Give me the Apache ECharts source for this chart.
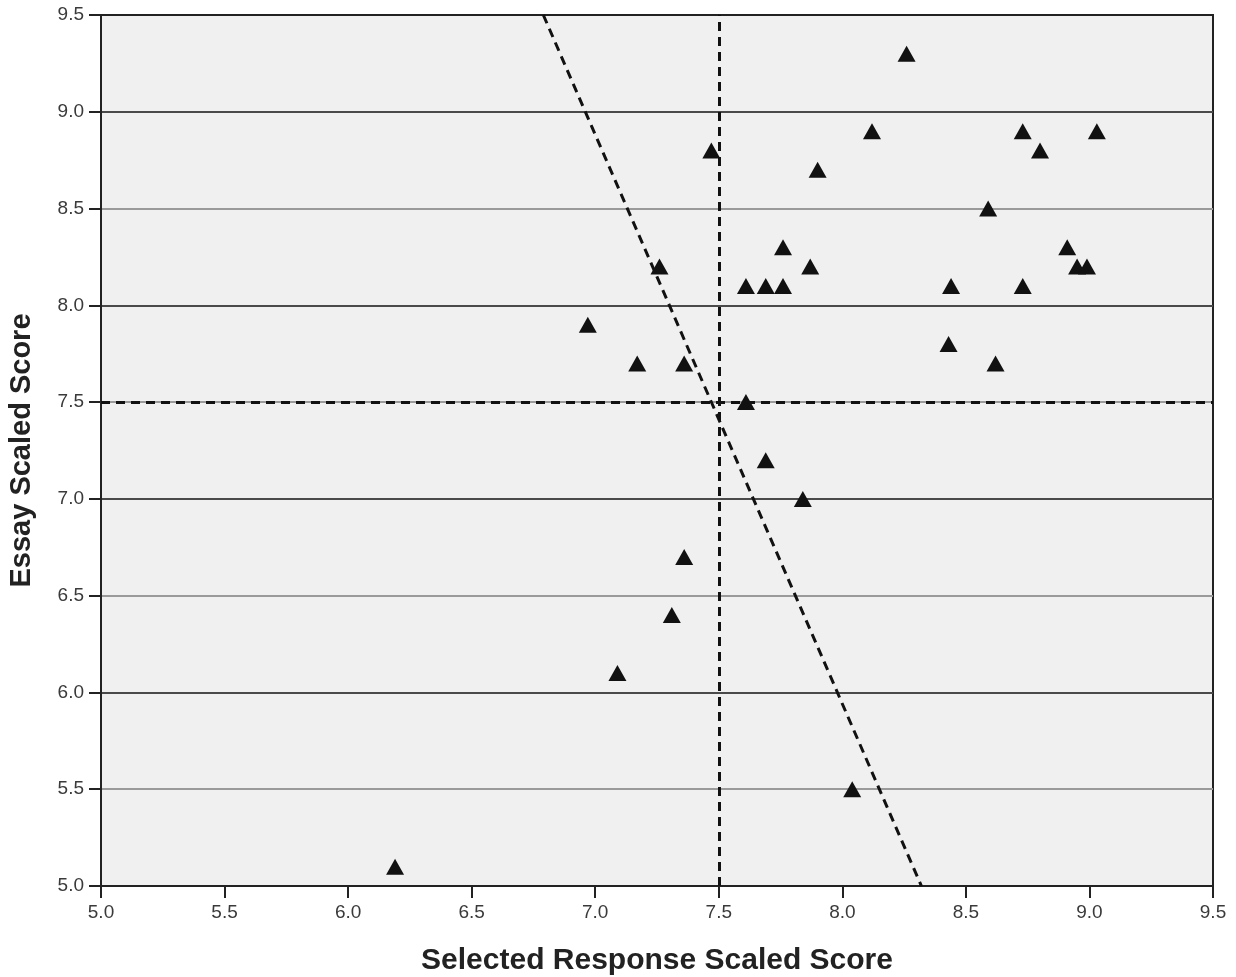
<!DOCTYPE html>
<html>
<head>
<meta charset="utf-8">
<script src="https://cdn.jsdelivr.net/npm/echarts@6/dist/echarts.min.js"></script>
<style>html,body{margin:0;padding:0;background:#fff;}#c{width:1236px;height:977px;}</style>
</head>
<body>
<div id="c"></div>
<script>
const xTitle = 'Selected Response Scaled Score';
const yTitle = 'Essay Scaled Score';
const selectedResponse = [6.19, 7.09, 7.31, 7.36, 6.97, 7.17, 7.26, 7.36, 7.47, 7.61, 7.69, 7.84, 8.04,
  7.61, 7.69, 7.76, 7.76, 7.87, 7.90, 8.12, 8.26, 8.59, 8.44, 8.43, 8.62, 8.73, 8.73, 8.80, 8.91, 8.95, 8.99, 9.03];
const essay = [5.1, 6.1, 6.4, 6.7, 7.9, 7.7, 8.2, 7.7, 8.8, 7.5, 7.2, 7.0, 5.5,
  8.1, 8.1, 8.1, 8.3, 8.2, 8.7, 8.9, 9.3, 8.5, 8.1, 7.8, 7.7, 8.1, 8.9, 8.8, 8.3, 8.2, 8.2, 8.9];
const fitLineX = [6.79, 8.32];
const fitLineY = [9.5, 5.0];
const cutX = 7.5;
const cutY = 7.5;
const axisMin = 5.0, axisMax = 9.5, axisStep = 0.5;

const points = selectedResponse.map((v, i) => [v, essay[i]]);
const fit = fitLineX.map((v, i) => [v, fitLineY[i]]);
const dashStyle = {color: '#111', width: 3, type: [9, 6]};

const chart = echarts.init(document.getElementById('c'));
const axisCommon = {
  type: 'value', min: axisMin, max: axisMax, interval: axisStep,
  axisLine: {show: true, onZero: false, lineStyle: {color: '#222', width: 2}},
  axisTick: {show: true, length: 12, lineStyle: {color: '#222', width: 2}},
  axisLabel: {color: '#3a3a3a', fontSize: 19, margin: 17, fontFamily: 'Liberation Sans, Arial', formatter: v => v.toFixed(1)},
  nameLocation: 'middle',
  nameTextStyle: {color: '#222', fontSize: 29, fontWeight: 'bold', fontFamily: 'Liberation Sans, Arial'}
};
chart.setOption({
  animation: false,
  grid: {left: 101, right: 23, top: 15, bottom: 91, outerBoundsMode: 'none', containLabel: false,
    show: true, backgroundColor: '#eff0ef', borderColor: '#222', borderWidth: 2},
  xAxis: Object.assign({}, axisCommon, {
    name: xTitle, nameGap: 60,
    nameTextStyle: Object.assign({}, axisCommon.nameTextStyle, {fontSize: 30}),
    splitLine: {show: false}
  }),
  yAxis: Object.assign({}, axisCommon, {
    name: yTitle, nameGap: 65,
    splitLine: {show: true, showMaxLine: false, lineStyle: {color: ['#4a4a4a', '#9a9a9a'], width: 2}}
  }),
  series: [
    {
      type: 'line', data: fit, symbol: 'none', lineStyle: dashStyle, silent: true, z: 3,
      markLine: {
        silent: true, symbol: 'none', label: {show: false},
        lineStyle: dashStyle,
        data: [{xAxis: cutX}, {yAxis: cutY}]
      }
    },
    {
      type: 'scatter', data: points, symbol: 'triangle', symbolSize: [18, 16],
      itemStyle: {color: '#111', opacity: 1}, z: 4
    }
  ]
});
</script>
</body>
</html>
